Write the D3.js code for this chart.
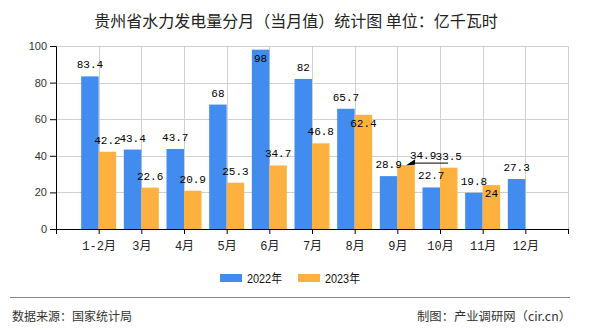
<!DOCTYPE html>
<html><head><meta charset="utf-8">
<script src="https://cdn.jsdelivr.net/npm/d3@7/dist/d3.min.js"></script>
<style>
body{margin:0;background:#fff;}
svg{display:block;}
</style></head>
<body>
<svg id="c" width="590" height="330"></svg>
<script>
const categories = ["1-2月","3月","4月","5月","6月","7月","8月","9月","10月","11月","12月"];
const series2022 = [83.4,43.4,43.7,68,98,82,65.7,28.9,22.7,19.8,27.3];
const series2023 = [42.2,22.6,20.9,25.3,34.7,46.8,62.4,34.9,33.5,24,null];
const seriesNames = ["2022年","2023年"];
const yTicks = [0,20,40,60,80,100];
// label placement: a = above, i = inside top, c = callout
const place2022 = ["a","a","a","a","i","a","a","a","a","a","a"];
const place2023 = ["a","a","a","a","a","a","i","c","a","i","a"];

(function(){
const colors = ["#418cee","#fdb23f"];
const svg = d3.select("#c");
const pL = 56, pR = 568, pT = 46, pB = 229;
const x = d3.scaleLinear().domain([0, categories.length + 1]).range([pL, pR]);
const y = d3.scaleLinear().domain([0, 100]).range([pB, pT]);
const bw = 17.5;

// title
svg.append("text").attr("x", 296).attr("y", 27).attr("text-anchor","middle")
  .attr("font-family","'Noto Sans CJK SC'").attr("font-size",16).attr("fill","#222")
  .text("贵州省水力发电量分月（当月值）统计图 单位：亿千瓦时");

// grid
const g = svg.append("g");
g.selectAll("line.h").data(yTicks.filter(d=>d>0)).join("line")
  .attr("x1", pL).attr("x2", pR).attr("y1", d=>Math.round(y(d))+0.5).attr("y2", d=>Math.round(y(d))+0.5)
  .attr("stroke","#d0d0d0");
g.selectAll("line.v").data(d3.range(1, categories.length + 2)).join("line")
  .attr("x1", d=>Math.round(x(d))+0.5).attr("x2", d=>Math.round(x(d))+0.5).attr("y1", pT).attr("y2", pB)
  .attr("stroke","#d0d0d0");

// bars
const data = [series2022, series2023];
data.forEach((s, si) => {
  svg.append("g").selectAll("rect").data(s.map((v,i)=>({v,i})).filter(d=>d.v!=null)).join("rect")
    .attr("x", d => x(d.i+1) - (si===0 ? bw : 0))
    .attr("width", bw)
    .attr("y", d => y(d.v))
    .attr("height", d => pB - y(d.v))
    .attr("fill", colors[si]);
});

// axes
const yAxis = d3.axisLeft(y).tickValues(yTicks).tickSize(6).tickPadding(3);
const ya = svg.append("g").attr("transform",`translate(${pL},0)`).call(yAxis);
ya.select(".domain").attr("stroke","#000");
ya.selectAll(".tick line").attr("stroke","#000");
ya.selectAll("text").attr("font-family","'Liberation Sans'").attr("font-size",11).attr("fill","#333");

const xAxis = d3.axisBottom(x).tickValues(d3.range(0, categories.length + 2)).tickSize(5).tickSizeOuter(0)
  .tickFormat(d => (d>=1 && d<=categories.length) ? categories[d-1] : "");
const xa = svg.append("g").attr("transform",`translate(0,${pB})`).call(xAxis);
xa.select(".domain").attr("stroke","#000");
xa.selectAll(".tick line").attr("stroke","#000");
xa.selectAll("text").attr("font-family","'Liberation Mono','Noto Sans CJK SC'").attr("font-size",12).attr("fill","#222").attr("dy","1.05em");

// labels
const lf = "'Liberation Mono'";
const places = [place2022, place2023];
data.forEach((s, si) => {
  const lg = svg.append("g").attr("font-family", lf).attr("font-size", 11).attr("fill","#000");
  s.forEach((v,i) => {
    if (v == null) return;
    const cx = x(i+1) + (si===0 ? -bw/2 : bw/2);
    const ty = y(v);
    const p = places[si][i];
    if (p === "c") {
      lg.append("text").attr("x", cx + 17).attr("y", ty - 6).attr("text-anchor","middle").text(v);
      lg.append("line").attr("x1", cx + 4).attr("x2", cx + 42).attr("y1", ty - 2).attr("y2", ty - 2)
        .attr("stroke","#333").attr("stroke-width",1.2);
      lg.append("path").attr("d", `M${cx},${ty} L${cx+9},${ty-6} L${cx+9},${ty-0.5} Z`).attr("fill","#000");
    } else {
      lg.append("text").attr("x", cx).attr("y", p === "i" ? ty + 12 : ty - 8).attr("text-anchor","middle").text(v);
    }
  });
});

// legend
const leg = svg.append("g");
const legX = [220, 298];
seriesNames.forEach((n, i) => {
  leg.append("rect").attr("x", legX[i]).attr("y", 274).attr("width", 22).attr("height", 8).attr("fill", colors[i]);
  leg.append("text").attr("x", legX[i] + 27).attr("y", 282.5).attr("font-family","'Liberation Sans','Noto Sans CJK SC'")
    .attr("font-size", 12).attr("fill","#111").attr("textLength", 35).attr("lengthAdjust","spacingAndGlyphs").text(n);
});

// footer
svg.append("line").attr("x1",10).attr("x2",570).attr("y1",297.5).attr("y2",297.5).attr("stroke","#888").attr("stroke-width",1);
svg.append("text").attr("x",12).attr("y",321).attr("font-family","'Noto Sans CJK SC'").attr("font-size",12).attr("fill","#333")
  .text("数据来源：国家统计局");
svg.append("text").attr("x",571).attr("y",321).attr("text-anchor","end").attr("font-family","'Noto Sans CJK SC'").attr("font-size",12).attr("fill","#333")
  .attr("textLength",154).attr("lengthAdjust","spacingAndGlyphs")
  .text("制图：产业调研网（cir.cn）");
})();
</script>
</body></html>
